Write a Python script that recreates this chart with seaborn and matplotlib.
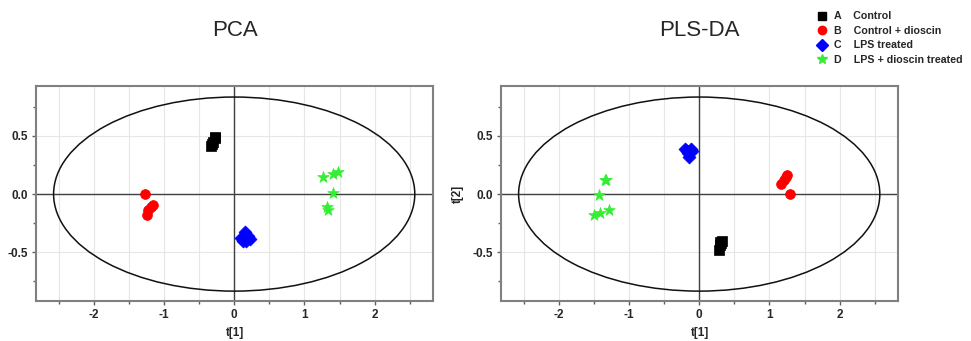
import numpy as np
import pandas as pd
import matplotlib
matplotlib.use("Agg")
import matplotlib.pyplot as plt
from matplotlib.patches import Ellipse
from matplotlib.ticker import MultipleLocator
from matplotlib.lines import Line2D
import seaborn as sns

groups = ["A", "B", "C", "D"]
group_labels = ["A    Control", "B    Control + dioscin", "C    LPS treated", "D    LPS + dioscin treated"]
group_colors = ["#000000", "#ff0000", "#0000ff", "#33ee33"]

# PCA scores
pca_A_x = [-0.33, -0.31, -0.30, -0.28, -0.27]
pca_A_y = [0.41, 0.43, 0.45, 0.48, 0.49]
pca_B_x = [-1.27, -1.15, -1.19, -1.22, -1.24]
pca_B_y = [0.00, -0.095, -0.11, -0.14, -0.18]
pca_C_x = [0.10, 0.15, 0.20, 0.12, 0.17, 0.23]
pca_C_y = [-0.38, -0.33, -0.36, -0.40, -0.40, -0.39]
pca_D_x = [1.27, 1.40, 1.48, 1.41, 1.32, 1.33]
pca_D_y = [0.15, 0.17, 0.19, 0.011, -0.115, -0.14]

# PLS-DA scores
pls_A_x = [0.29, 0.32, 0.28, 0.29, 0.31]
pls_A_y = [-0.41, -0.40, -0.48, -0.44, -0.42]
pls_B_x = [1.25, 1.21, 1.17, 1.29, 1.23]
pls_B_y = [0.16, 0.12, 0.083, 0.00, 0.15]
pls_C_x = [-0.20, -0.12, -0.16, -0.15, -0.10, -0.18]
pls_C_y = [0.39, 0.39, 0.35, 0.32, 0.37, 0.37]
pls_D_x = [-1.33, -1.34, -1.42, -1.50, -1.41, -1.29]
pls_D_y = [0.125, 0.12, -0.01, -0.18, -0.16, -0.14]

ellipse_a = 2.57
ellipse_b = 0.835


def make_df(xs, ys):
    rows = []
    for g, x, y in zip(groups, xs, ys):
        for xi, yi in zip(x, y):
            rows.append((g, xi, yi))
    return pd.DataFrame(rows, columns=["group", "t1", "t2"])


pca_df = make_df([pca_A_x, pca_B_x, pca_C_x, pca_D_x], [pca_A_y, pca_B_y, pca_C_y, pca_D_y])
pls_df = make_df([pls_A_x, pls_B_x, pls_C_x, pls_D_x], [pls_A_y, pls_B_y, pls_C_y, pls_D_y])

sns.set_theme(style="white")
plt.rcParams["font.family"] = ["Liberation Sans", "DejaVu Sans"]
plt.rcParams["axes.unicode_minus"] = False

fig = plt.figure(figsize=(9.71, 3.41), dpi=100)
ax1 = fig.add_axes([0.0371, 0.1173, 0.4089, 0.6305])
ax2 = fig.add_axes([0.516, 0.1173, 0.4089, 0.6305])

palette = dict(zip(groups, group_colors))
markers = {"A": "s", "B": "o", "C": "D", "D": "*"}
sizes = {"A": 42, "B": 50, "C": 44, "D": 75}

for ax, df, title in [(ax1, pca_df, "PCA"), (ax2, pls_df, "PLS-DA")]:
    ax.set_xlim(-2.82, 2.83)
    ax.set_ylim(-0.92, 0.93)
    ax.xaxis.set_major_locator(MultipleLocator(1))
    ax.xaxis.set_minor_locator(MultipleLocator(0.5))
    ax.yaxis.set_major_locator(MultipleLocator(0.5))
    ax.yaxis.set_minor_locator(MultipleLocator(0.25))
    ax.grid(True, which="minor", axis="x", color="#e6e6e6", lw=0.8)
    ax.grid(True, which="major", axis="x", color="#e6e6e6", lw=0.8)
    ax.grid(True, which="major", axis="y", color="#e6e6e6", lw=0.8)
    ax.set_axisbelow(True)
    ax.axhline(0, color="#404040", lw=1.0, zorder=1)
    ax.axvline(0, color="#404040", lw=1.0, zorder=1)
    ax.add_patch(Ellipse((0, 0), 2 * ellipse_a, 2 * ellipse_b, fill=False,
                         edgecolor="#111111", lw=1.1, zorder=1.5))
    for g in groups:
        sub = df[df["group"] == g]
        sns.scatterplot(data=sub, x="t1", y="t2", color=palette[g], marker=markers[g],
                        s=sizes[g], edgecolor=palette[g], linewidth=0.5, ax=ax,
                        legend=False, zorder=3)
    for sp in ax.spines.values():
        sp.set_visible(True)
        sp.set_color("#808080")
        sp.set_linewidth(1.5)
    ax.tick_params(axis="both", which="both", direction="out", color="#606060",
                   bottom=True, left=True, width=1.0)
    ax.tick_params(axis="both", which="major", length=3, labelsize=8.5, pad=3)
    ax.tick_params(axis="both", which="minor", length=2)
    for lab in ax.get_xticklabels() + ax.get_yticklabels():
        lab.set_fontweight("bold")
    ax.set_xlabel("t[1]", fontsize=8.5, fontweight="bold", labelpad=4)
    ax.set_ylabel("")
    ax.set_title(title, fontsize=16, pad=36)

ax2.set_ylabel("t[2]", fontsize=8.5, fontweight="bold", labelpad=6)

handles = [Line2D([], [], linestyle="none", marker=markers[g], color=palette[g],
                  markersize=6 if g != "D" else 7) for g in groups]
leg = fig.legend(handles, group_labels, loc="upper left", bbox_to_anchor=(0.831, 0.995),
                 frameon=False, handletextpad=0.6, labelspacing=0.42, handlelength=1.0,
                 prop={"size": 7.7, "weight": "bold"})

fig.savefig("out.png", dpi=100)
